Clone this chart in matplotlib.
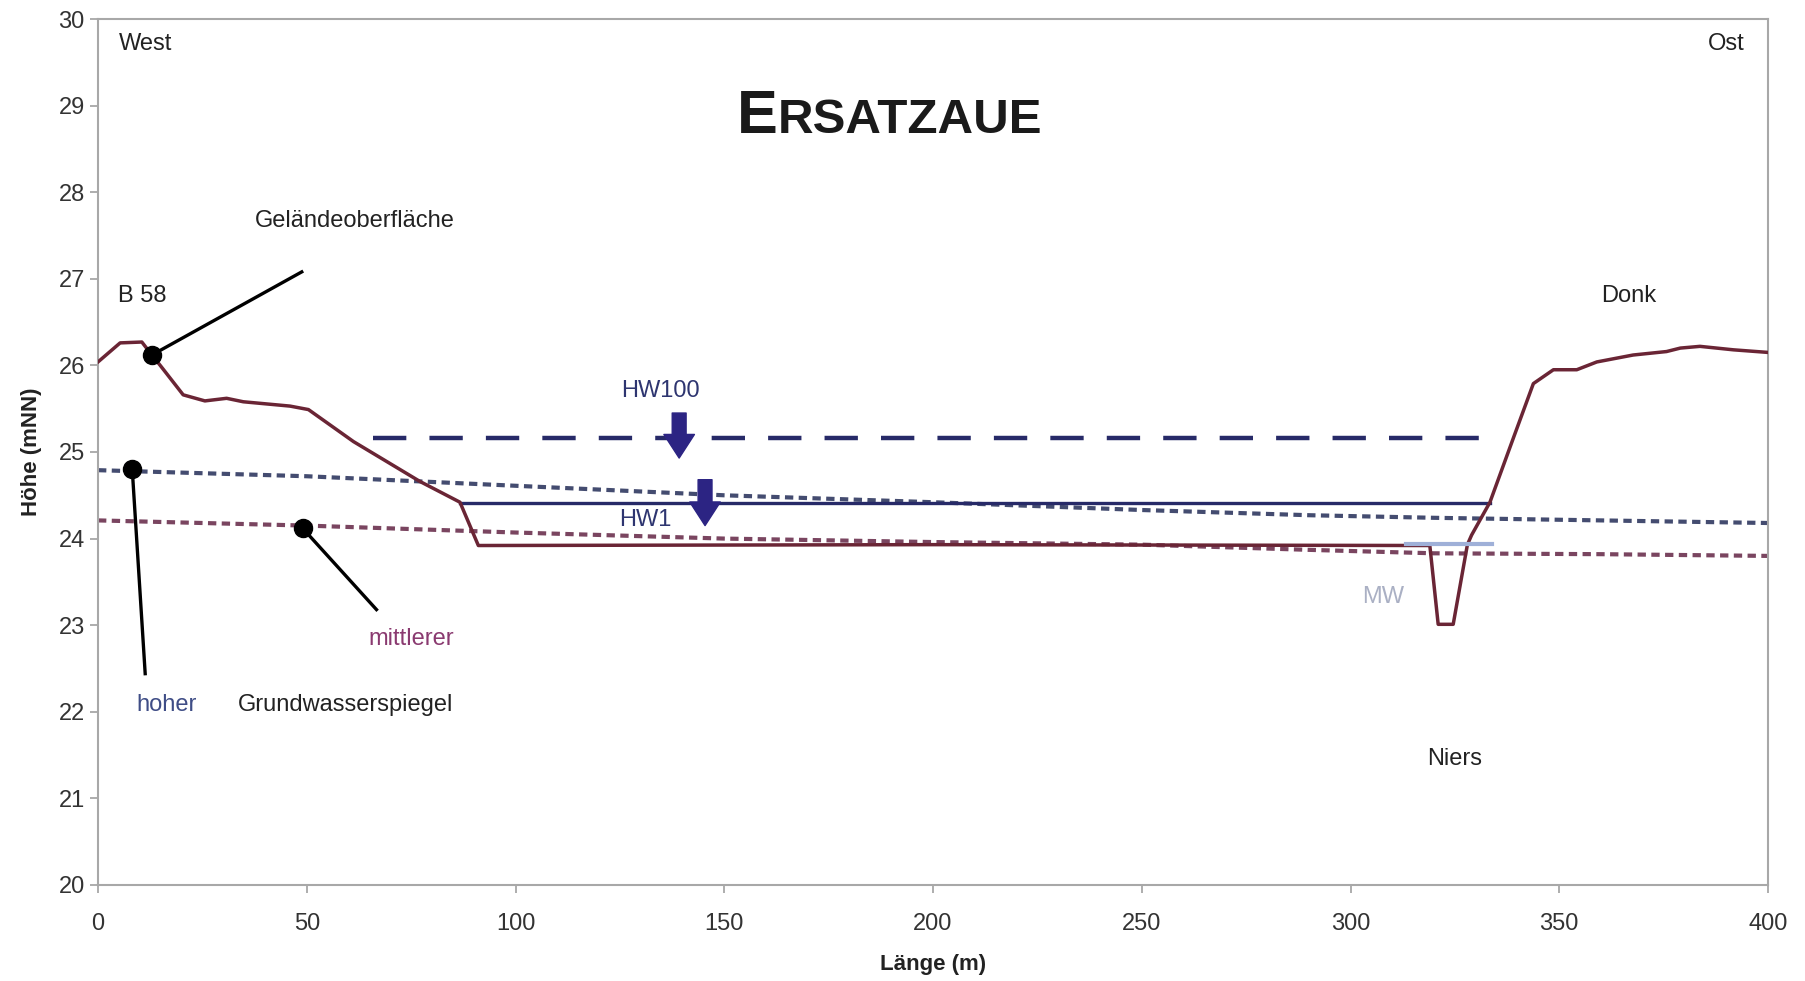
import numpy as np
import matplotlib.pyplot as plt

plt.rcParams['font.family'] = ['Liberation Sans', 'DejaVu Sans']

# Geländeoberfläche (ground profile)
ground_x = [0, 5.3, 10.5, 12.9, 14.9, 20.4, 25.6, 30.8, 34.8, 46, 50.4, 61.2, 77.1, 86.7, 91.1,
            200, 319, 321, 324.6, 328, 329, 333.4, 339, 343.8, 348.6, 354.2, 359, 367.7,
            375.7, 379, 383.7, 391.7, 400]
ground_y = [26.04, 26.26, 26.27, 26.12, 26.0, 25.66, 25.59, 25.62, 25.58, 25.53, 25.49, 25.12, 24.66,
            24.42, 23.92, 23.93, 23.92, 23.01, 23.01, 23.93, 24.04, 24.42, 25.16, 25.79, 25.95,
            25.95, 26.04, 26.12, 26.16, 26.2, 26.22, 26.18, 26.15]

# groundwater levels
gw_x = [0, 50, 100, 150, 200, 250, 290, 320, 360, 400]
gw_high = [24.79, 24.72, 24.61, 24.50, 24.42, 24.33, 24.27, 24.24, 24.21, 24.18]
gw_mid = [24.21, 24.15, 24.07, 24.00, 23.96, 23.93, 23.87, 23.83, 23.82, 23.80]

# water levels
hw100_x, hw100_y = [65.9, 336.0], 25.16
hw1_x, hw1_y = [86.7, 333.4], 24.415
mw_x, mw_y = [313.4, 333.8], 23.94

# arrows (x, top, tip)
arrows = [(139.2, 25.45, 24.93), (145.4, 24.68, 24.15)]

# pointer markers (marker point, line end)
pointers = [((12.9, 26.12), (48.8, 27.08)),
            ((8.2, 24.80), (11.3, 22.44)),
            ((49.0, 24.12), (66.7, 23.18))]

ground_c = '#6a2535'
navy = '#272a68'
arrow_c = '#2c2483'

fig = plt.figure(figsize=(18.05, 9.81), dpi=100)
ax = fig.add_axes([0.0543, 0.0979, 0.9795 - 0.0543, 0.9806 - 0.0979])

ax.plot(gw_x, gw_high, color='#444c70', lw=3, dashes=(2.0, 1.3))
ax.plot(gw_x, gw_mid, color='#7a4560', lw=3, dashes=(2.0, 1.3))
ax.plot(hw100_x, [hw100_y] * 2, color=navy, lw=3.2, dashes=(7.5, 5.2))
ax.plot(hw1_x, [hw1_y] * 2, color=navy, lw=2.4)
ax.plot(ground_x, ground_y, color=ground_c, lw=2.5, zorder=3)
ax.plot(mw_x, [mw_y] * 2, color='#9fb0d8', lw=3, zorder=4)

for x, top, tip in arrows:
    ax.annotate('', xy=(x, tip), xytext=(x, top),
                arrowprops=dict(arrowstyle='simple,head_length=17,head_width=22,tail_width=10',
                                mutation_scale=1, color=arrow_c, shrinkA=0, shrinkB=0))

for (mx, my), (ex, ey) in pointers:
    ax.plot([mx, ex], [my, ey], color='black', lw=2.4, zorder=5)
    ax.plot(mx, my, 'o', color='black', ms=13, zorder=6)

fs = 17
ax.text(4.9, 29.71, 'West', fontsize=fs, va='center', ha='left', color='#222222')
ax.text(394.3, 29.71, 'Ost', fontsize=fs, va='center', ha='right', color='#222222')
ax.text(4.9, 26.80, 'B 58', fontsize=fs, va='center', ha='left', color='#222222')
ax.text(366.7, 26.80, 'Donk', fontsize=fs, va='center', ha='center', color='#222222')
ax.text(61.5, 27.67, 'Geländeoberfläche', fontsize=fs, va='center', ha='center', color='#222222')
ax.text(16.5, 22.08, 'hoher', fontsize=fs, va='center', ha='center', color='#3f4d86')
ax.text(59.3, 22.08, 'Grundwasserspiegel', fontsize=fs, va='center', ha='center', color='#222222')
ax.text(75.0, 22.84, 'mittlerer', fontsize=fs, va='center', ha='center', color='#8a3a70')
ax.text(134.6, 25.70, 'HW100', fontsize=fs, va='center', ha='center', color='#2e3570')
ax.text(131.0, 24.21, 'HW1', fontsize=fs, va='center', ha='center', color='#2e3570')
ax.text(307.7, 23.32, 'MW', fontsize=fs, va='center', ha='center', color='#aab0c4')
ax.text(325.0, 21.45, 'Niers', fontsize=fs, va='center', ha='center', color='#222222')

t1 = ax.text(153.0, 28.68, 'E', fontsize=44, fontweight='bold', va='baseline', ha='left', color='#1a1a1a')
ax.annotate('RSATZAUE', xy=(1, 28.68), xycoords=(t1, 'data'), fontsize=35.5, fontweight='bold',
            va='baseline', ha='left', color='#1a1a1a')

ax.set_xlim(0, 400)
ax.set_ylim(20, 30)
ax.set_xticks(np.arange(0, 401, 50))
ax.set_yticks(np.arange(20, 31, 1))
ax.tick_params(colors='#a0a0a0', labelcolor='#333333', labelsize=17, length=6, width=1.2)
ax.tick_params(axis='x', pad=14)
for s in ax.spines.values():
    s.set_color('#a8a8a8')
    s.set_linewidth(1.5)

ax.set_xlabel('Länge (m)', fontsize=16, fontweight='bold', labelpad=14, color='#222222')
ax.set_ylabel('Höhe (mNN)', fontsize=16, fontweight='bold', labelpad=12, color='#222222')

fig.savefig('out.png', dpi=100)
